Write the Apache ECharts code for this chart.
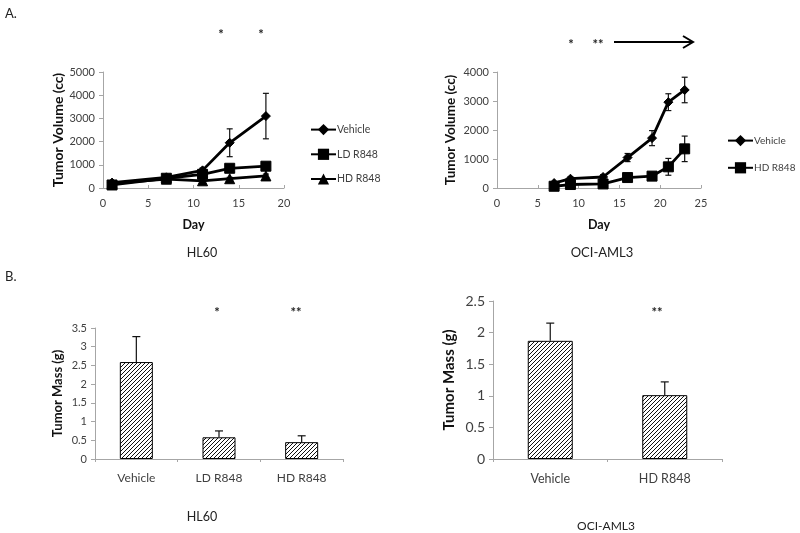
<!DOCTYPE html>
<html>
<head>
<meta charset="utf-8">
<script src="https://cdn.jsdelivr.net/npm/echarts@6/dist/echarts.min.js"></script>
<style>html,body{margin:0;padding:0;background:#fff}#c{width:800px;height:533px}</style>
</head>
<body>
<div id="c"></div>
<script>
// ---- Data ----
const hlDays = [1, 7, 11, 14, 18];
const hlVehicle = [230, 460, 760, 1950, 3100];
const hlVehicleErr = [60, 60, 100, 600, 980];
const hlLD = [130, 420, 590, 850, 940];
const hlLDErr = [40, 50, 60, 80, 110];
const hlHD = [200, 380, 310, 400, 520];
const hlHDErr = [40, 40, 40, 60, 80];

const ociDays = [7, 9, 13, 16, 19, 21, 23];
const ociVehicle = [170, 320, 380, 1050, 1720, 2960, 3380];
const ociVehicleErr = [40, 60, 80, 140, 260, 290, 440];
const ociHD = [60, 120, 140, 360, 410, 730, 1350];
const ociHDErr = [20, 30, 30, 50, 60, 290, 440];

const hlMassCats = ['Vehicle', 'LD R848', 'HD R848'];
const hlMass = [2.59, 0.58, 0.45];
const hlMassErr = [0.68, 0.17, 0.17];
const ociMassCats = ['Vehicle', 'HD R848'];
const ociMass = [1.87, 1.01];
const ociMassErr = [0.28, 0.21];

// ---- Styles ----
const FONT = 'Lato';
const AXIS_COLOR = '#a6a6a6';
const LABEL_COLOR = '#404040';

function hatch() {
  const c = document.createElement('canvas');
  c.width = 4; c.height = 4;
  const g = c.getContext('2d');
  g.fillStyle = '#fff'; g.fillRect(0, 0, 4, 4);
  g.strokeStyle = '#111'; g.lineWidth = 1;
  g.beginPath();
  g.moveTo(-1, 5); g.lineTo(5, -1);
  g.moveTo(-1, 1); g.lineTo(1, -1);
  g.moveTo(3, 5); g.lineTo(5, 3);
  g.stroke();
  return { image: c, repeat: 'repeat' };
}

function errSeries(xIdx, yIdx, xs, ys, errs, both, cap) {
  return {
    type: 'custom', xAxisIndex: xIdx, yAxisIndex: yIdx, z: 1,
    data: xs.map((x, i) => [x, ys[i], errs[i]]),
    renderItem: function (params, api) {
      const x = api.value(0), y = api.value(1), e = api.value(2);
      const top = api.coord([x, y + e]);
      const bot = api.coord([x, both ? y - e : y]);
      const w = cap;
      const st = { stroke: '#111', lineWidth: 1.2 };
      return {
        type: 'group',
        children: [
          { type: 'line', shape: { x1: top[0], y1: top[1], x2: bot[0], y2: bot[1] }, style: st },
          { type: 'line', shape: { x1: top[0] - w, y1: top[1], x2: top[0] + w, y2: top[1] }, style: st },
          both ? { type: 'line', shape: { x1: bot[0] - w, y1: bot[1], x2: bot[0] + w, y2: bot[1] }, style: st } : { type: 'group' }
        ]
      };
    }
  };
}

function lineSeries(name, xIdx, yIdx, xs, ys, symbol, size) {
  return {
    name: name, type: 'line', xAxisIndex: xIdx, yAxisIndex: yIdx, z: 3,
    data: xs.map((x, i) => [x, ys[i]]),
    symbol: symbol, symbolSize: size,
    lineStyle: { color: '#000', width: 2.8 },
    itemStyle: { color: '#000', borderColor: '#000' }
  };
}

const plain = v => String(v);

function valAxisX(grid, max) {
  return {
    type: 'value', gridIndex: grid, min: 0, max: max, interval: 5,
    axisLine: { show: true, lineStyle: { color: AXIS_COLOR } },
    axisTick: { show: true, inside: true, length: 3, lineStyle: { color: AXIS_COLOR } },
    splitLine: { show: false },
    axisLabel: { color: LABEL_COLOR, fontFamily: FONT, fontSize: 11, margin: 10, formatter: plain },
    name: 'Day', nameLocation: 'middle', nameGap: 30,
    nameTextStyle: { fontFamily: FONT, fontWeight: 'bold', fontSize: 12.5, color: '#111' }
  };
}
function valAxisY(grid, max, interval, fs, name, nameFs, gap) {
  return {
    type: 'value', gridIndex: grid, min: 0, max: max, interval: interval,
    axisLine: { show: true, lineStyle: { color: AXIS_COLOR } },
    axisTick: { show: true, length: 4, lineStyle: { color: AXIS_COLOR } },
    splitLine: { show: false },
    axisLabel: { color: LABEL_COLOR, fontFamily: FONT, fontSize: fs, margin: 8, formatter: plain },
    name: name, nameLocation: 'middle', nameGap: gap, nameRotate: 90,
    nameTextStyle: { fontFamily: FONT, fontWeight: 'bold', fontSize: nameFs, color: '#111' }
  };
}
function catAxis(grid, cats, fs) {
  return {
    type: 'category', gridIndex: grid, data: cats,
    axisLine: { show: true, lineStyle: { color: AXIS_COLOR } },
    axisTick: { show: true, length: 3, lineStyle: { color: AXIS_COLOR } },
    axisLabel: { color: LABEL_COLOR, fontFamily: FONT, fontSize: fs, margin: 13 }
  };
}

const chart = echarts.init(document.getElementById('c'), null, { renderer: 'canvas' });
const pattern = hatch();
const titleStyle = fs => ({ fontFamily: FONT, fontSize: fs, fontWeight: 'normal', color: '#222' });
const star = (x, y, t) => ({ type: 'text', x: x, y: y, style: { text: t, font: 'bold 13px ' + FONT, fill: '#222', align: 'center', verticalAlign: 'middle' } });

const option = {
  animation: false,
  backgroundColor: '#fff',
  textStyle: { fontFamily: FONT },
  grid: [
    { left: 103, top: 72, width: 181, height: 116 },
    { left: 497, top: 72, width: 204, height: 116 },
    { left: 95, top: 328, width: 248, height: 131 },
    { left: 493, top: 301, width: 229, height: 158 }
  ],
  xAxis: [
    valAxisX(0, 20),
    valAxisX(1, 25),
    catAxis(2, hlMassCats, 12),
    catAxis(3, ociMassCats, 12.5)
  ],
  yAxis: [
    valAxisY(0, 5000, 1000, 11, 'Tumor Volume (cc)', 14, 38),
    valAxisY(1, 4000, 1000, 11, 'Tumor Volume (cc)', 13.5, 39),
    valAxisY(2, 3.5, 0.5, 11, 'Tumor Mass (g)', 13, 31),
    valAxisY(3, 2.5, 0.5, 14, 'Tumor Mass (g)', 15, 36)
  ],
  legend: [
    {
      orient: 'vertical', left: 310, top: 124, padding: 0, itemGap: 13.5, itemWidth: 25, itemHeight: 14,
      data: ['Vehicle', 'LD R848', 'HD R848'],
      textStyle: { fontFamily: FONT, fontSize: 10.5, color: LABEL_COLOR, padding: [0, 0, 0, -4] },
      selectedMode: false
    },
    {
      orient: 'vertical', left: 727, top: 135, padding: 0, itemGap: 16, itemWidth: 25, itemHeight: 14,
      data: ['OCI Vehicle', 'OCI HD R848'],
      formatter: n => n.replace('OCI ', ''),
      textStyle: { fontFamily: FONT, fontSize: 10, color: LABEL_COLOR, padding: [0, 0, 0, -4] },
      selectedMode: false
    }
  ],
  title: [
    { text: 'HL60', left: 197, top: 241, textAlign: 'center', textStyle: titleStyle(12.5) },
    { text: 'OCI-AML3', left: 597, top: 241, textAlign: 'center', textStyle: titleStyle(13) },
    { text: 'HL60', left: 197, top: 505, textAlign: 'center', textStyle: titleStyle(12.5) },
    { text: 'OCI-AML3', left: 601, top: 515, textAlign: 'center', textStyle: titleStyle(12) }
  ],
  graphic: [
    { type: 'text', left: 5, top: 7, style: { text: 'A.', font: '13px ' + FONT, fill: '#222' } },
    { type: 'text', left: 5, top: 270, style: { text: 'B.', font: '13px ' + FONT, fill: '#222' } },
    star(221, 35, '*'), star(261, 35, '*'),
    star(571, 45, '*'), star(598, 45, '**'),
    { type: 'line', shape: { x1: 614, y1: 42, x2: 692, y2: 42 }, style: { stroke: '#000', lineWidth: 2 } },
    { type: 'polyline', shape: { points: [[683, 36], [693, 42], [683, 48]] }, style: { stroke: '#000', lineWidth: 2, fill: null } },
    star(217, 313, '*'), star(296, 313, '**'), star(657, 313, '**')
  ],
  series: [
    errSeries(0, 0, hlDays, hlVehicle, hlVehicleErr, true, 3),
    errSeries(0, 0, hlDays, hlLD, hlLDErr, true, 3),
    errSeries(0, 0, hlDays, hlHD, hlHDErr, true, 3),
    lineSeries('Vehicle', 0, 0, hlDays, hlVehicle, 'diamond', 9),
    lineSeries('LD R848', 0, 0, hlDays, hlLD, 'rect', 10),
    lineSeries('HD R848', 0, 0, hlDays, hlHD, 'triangle', 10),
    errSeries(1, 1, ociDays, ociVehicle, ociVehicleErr, true, 3),
    errSeries(1, 1, ociDays, ociHD, ociHDErr, true, 3),
    lineSeries('OCI Vehicle', 1, 1, ociDays, ociVehicle, 'diamond', 9),
    lineSeries('OCI HD R848', 1, 1, ociDays, ociHD, 'rect', 10),
    {
      type: 'bar', xAxisIndex: 2, yAxisIndex: 2, data: hlMass, barWidth: 33,
      itemStyle: { color: pattern, borderColor: '#000', borderWidth: 1 }
    },
    errSeries(2, 2, [0, 1, 2], hlMass, hlMassErr, false, 4),
    {
      type: 'bar', xAxisIndex: 3, yAxisIndex: 3, data: ociMass, barWidth: 45,
      itemStyle: { color: pattern, borderColor: '#000', borderWidth: 1 }
    },
    errSeries(3, 3, [0, 1], ociMass, ociMassErr, false, 4)
  ]
};
chart.setOption(option);
</script>
</body>
</html>
